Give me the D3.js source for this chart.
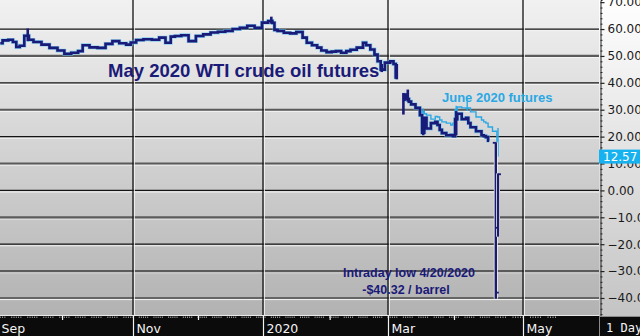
<!DOCTYPE html>
<html lang="en">
<head>
<meta charset="utf-8">
<script src="https://cdn.jsdelivr.net/npm/d3@7"></script>
<style>
body{margin:0;background:#fff;overflow:hidden}
svg{display:block}
</style>
</head>
<body>
<div id="chart"></div>
<script>
const mayDates=["2019-09-04","2019-09-06","2019-09-09","2019-09-10","2019-09-12","2019-09-13","2019-09-16","2019-09-17","2019-09-20","2019-09-24","2019-09-27",
"2019-10-01","2019-10-03","2019-10-07","2019-10-09","2019-10-11","2019-10-15","2019-10-18","2019-10-22","2019-10-24","2019-10-28","2019-10-30",
"2019-11-01","2019-11-04","2019-11-08","2019-11-12","2019-11-15","2019-11-18","2019-11-20","2019-11-22","2019-11-26","2019-11-29",
"2019-12-03","2019-12-06","2019-12-10","2019-12-13","2019-12-17","2019-12-20","2019-12-24","2019-12-27","2019-12-31",
"2020-01-03","2020-01-06","2020-01-07","2020-01-08","2020-01-10","2020-01-14","2020-01-16","2020-01-20","2020-01-22","2020-01-24","2020-01-27","2020-01-29","2020-01-31",
"2020-02-03","2020-02-05","2020-02-07","2020-02-10","2020-02-12","2020-02-14","2020-02-18","2020-02-20","2020-02-21","2020-02-24","2020-02-25","2020-02-27","2020-02-28",
"2020-03-02","2020-03-04","2020-03-05","2020-03-06","2020-03-07",
"2020-03-09","2020-03-10","2020-03-11","2020-03-12","2020-03-13","2020-03-16","2020-03-17","2020-03-18","2020-03-19","2020-03-20",
"2020-03-23","2020-03-24","2020-03-25","2020-03-26","2020-03-27","2020-03-30","2020-03-31",
"2020-04-01","2020-04-02","2020-04-03","2020-04-06","2020-04-07","2020-04-08","2020-04-09","2020-04-13","2020-04-14","2020-04-15","2020-04-16","2020-04-17"]
const mayClose=[54.7,55.8,56.0,55.2,53.3,53.8,57.5,56.0,55.2,54.2,53.0,
52.0,50.8,51.2,51.8,54.0,53.2,53.0,54.5,55.5,54.7,54.2,
55.0,55.9,56.2,56.0,56.8,54.9,57.2,57.4,57.7,55.5,
57.4,58.0,58.7,59.0,59.3,60.0,60.5,61.2,60.5,
62.4,63.0,62.3,59.7,59.3,58.6,58.4,58.9,56.8,54.9,54.0,53.1,52.0,
51.4,51.6,51.8,51.2,51.8,52.3,53.1,54.9,54.0,52.4,50.5,48.0,44.9,
47.5,48.0,47.0,42.0,null,
33.7,35.6,34.0,33.0,32.0,30.7,28.0,21.5,27.0,23.0,
25.0,25.5,24.3,22.5,21.3,20.5,20.6,
20.2,26.5,28.5,26.5,27.0,25.0,23.5,22.0,20.5,20.2,19.8,18.5]
// days whose high/low range sticks out past the closes
const mayRangeDates=["2019-09-16","2020-01-06","2020-02-28","2020-03-06","2020-03-09","2020-03-11","2020-03-18","2020-04-02"]
const mayRangeHigh=[60.2,64.6,47.0,47.0,36.2,37.5,26.5,29.5]
const mayRangeLow=[55.5,62.0,44.0,41.3,28.2,33.0,20.5,20.5]
// the two expiry days, open/high/low/close
const lastDates=["2020-04-20","2020-04-21"]
const lastOpen=[17.7,-13.9]
const lastHigh=[17.9,6.3]
const lastLow=[-40.32,-17.2]
const lastClose=[-38.0,6.0]
// June 2020 contract
const junDates=["2020-03-17","2020-03-18","2020-03-19","2020-03-20","2020-03-23","2020-03-24","2020-03-25","2020-03-26","2020-03-27","2020-03-30","2020-03-31",
"2020-04-01","2020-04-02","2020-04-03","2020-04-06","2020-04-07","2020-04-08","2020-04-09","2020-04-13","2020-04-14","2020-04-15","2020-04-16","2020-04-17","2020-04-20","2020-04-21"]
const junClose=[29.0,29.3,28.5,28.0,26.5,27.5,27.3,26.2,25.5,25.0,24.3,
25.0,30.0,31.0,30.7,30.5,30.7,29.2,27.3,26.2,25.5,25.0,23.6,22.0,12.57]
const junRangeDates=["2020-03-18","2020-04-02","2020-04-07","2020-04-21"]
const junRangeHigh=[30.5,31.5,33.7,23.2]
const junRangeLow=[28.0,25.0,29.5,12.57]

const yTicks=[70,60,50,40,30,20,10,0,-10,-20,-30,-40]
const monthTicks=["2019-09-03","2019-10-01","2019-11-01","2019-12-02","2020-01-02","2020-02-03","2020-03-02","2020-04-01","2020-05-01"]
const monthLabels={"2019-09-03":"Sep","2019-11-01":"Nov","2020-01-02":"2020","2020-03-02":"Mar","2020-05-01":"May"}
const lastPrice=12.57

const W=640,H=336,plotR=599,plotB=316
const navy="#1a1a78",cyan="#2aa8e4"
const parse=d3.timeParse("%Y-%m-%d")
// trading-day chart: piecewise time scale pinned at the month lines
const x=d3.scaleTime()
  .domain(["2019-09-03","2019-11-01","2020-01-02","2020-03-02","2020-04-21","2020-05-01"].map(parse))
  .range([-2,133,263,388,498,523])
const y=d3.scaleLinear().domain([-46.7,70.8]).range([plotB,0])

const svg=d3.select("#chart").append("svg").attr("width",W).attr("height",H)
  .style("font-family","'DejaVu Sans',sans-serif")
const defs=svg.append("defs")
const bg=defs.append("linearGradient").attr("id","bg").attr("x1",0).attr("x2",0).attr("y1",0).attr("y2",1)
bg.append("stop").attr("offset","0%").attr("stop-color","#f1f1f1")
bg.append("stop").attr("offset","100%").attr("stop-color","#b2b2b2")
const ax=defs.append("linearGradient").attr("id","ax").attr("x1",0).attr("x2",0).attr("y1",0).attr("y2",1)
ax.append("stop").attr("offset","0%").attr("stop-color","#ffffff")
ax.append("stop").attr("offset","100%").attr("stop-color","#c4c4c4")
defs.append("clipPath").attr("id","clip").append("rect").attr("width",plotR).attr("height",plotB)

svg.append("rect").attr("width",plotR).attr("height",plotB).attr("fill","url(#bg)")

// grid, odd tens drawn heavier and greyer like the original
const grid=svg.append("g")
const gy=yTicks.filter(v=>v<70)
grid.selectAll(".hl").data(gy).join("line").attr("x1",0).attr("x2",plotR)
  .attr("y1",d=>y(d)+1.6).attr("y2",d=>y(d)+1.6).attr("stroke","#f4f4f4").attr("stroke-width",1)
grid.selectAll(".gl").data(gy).join("line").attr("x1",0).attr("x2",plotR)
  .attr("y1",d=>y(d)).attr("y2",d=>y(d))
  .attr("stroke",d=>Math.abs(d/10)%2==1?"#5a5a5a":"#151515")
  .attr("stroke-width",d=>Math.abs(d/10)%2==1?2.2:1.2)
const vLines=monthTicks.filter(d=>monthLabels[d]&&d!="2019-09-03").map(parse)
grid.selectAll(".vh").data(vLines).join("line").attr("x1",d=>x(d)+1.3).attr("x2",d=>x(d)+1.3)
  .attr("y1",0).attr("y2",plotB).attr("stroke","#f6f6f6").attr("stroke-width",1)
grid.selectAll(".vl").data(vLines).join("line").attr("x1",d=>x(d)).attr("x2",d=>x(d))
  .attr("y1",0).attr("y2",plotB).attr("stroke","#111").attr("stroke-width",1.3)

const plot=svg.append("g").attr("clip-path","url(#clip)")
const step=d3.line().defined(p=>p.c!=null).x(p=>x(p.d)).y(p=>y(p.c)).curve(d3.curveStep)

// June contract, thin light blue
const jun=junDates.map((d,i)=>({d:parse(d),c:junClose[i]}))
plot.append("path").datum(jun).attr("d",step).attr("fill","none").attr("stroke",cyan).attr("stroke-width",1.4)
plot.selectAll(".jr").data(junRangeDates).join("line")
  .attr("x1",d=>x(parse(d))).attr("x2",d=>x(parse(d)))
  .attr("y1",(d,i)=>y(junRangeHigh[i])).attr("y2",(d,i)=>y(junRangeLow[i]))
  .attr("stroke",cyan).attr("stroke-width",1.4)

// May contract, navy with a light edge
const may=mayDates.map((d,i)=>({d:parse(d),c:mayClose[i]}))
plot.append("path").datum(may).attr("d",step).attr("fill","none").attr("stroke","#5cc2f0").attr("stroke-width",3.8).attr("opacity",0.7)
plot.append("path").datum(may).attr("d",step).attr("fill","none").attr("stroke",navy).attr("stroke-width",2.6)
plot.selectAll(".mr").data(mayRangeDates).join("line")
  .attr("x1",d=>x(parse(d))).attr("x2",d=>x(parse(d)))
  .attr("y1",(d,i)=>y(mayRangeHigh[i])).attr("y2",(d,i)=>y(mayRangeLow[i]))
  .attr("stroke",navy).attr("stroke-width",2.6)

// expiry bars
const last=plot.selectAll(".lb").data(lastDates).join("g")
last.append("line").attr("x1",d=>x(parse(d))).attr("x2",d=>x(parse(d)))
  .attr("y1",(d,i)=>y(lastHigh[i])).attr("y2",(d,i)=>y(lastLow[i]))
  .attr("stroke","#eef2d8").attr("stroke-width",4)
last.append("line").attr("x1",d=>x(parse(d))).attr("x2",d=>x(parse(d)))
  .attr("y1",(d,i)=>y(lastHigh[i])).attr("y2",(d,i)=>y(lastLow[i]))
  .attr("stroke",navy).attr("stroke-width",2.4)
last.append("line").attr("x1",d=>x(parse(d))-3).attr("x2",d=>x(parse(d)))
  .attr("y1",(d,i)=>y(lastOpen[i])).attr("y2",(d,i)=>y(lastOpen[i]))
  .attr("stroke",navy).attr("stroke-width",1.8)
last.append("line").attr("x1",d=>x(parse(d))).attr("x2",d=>x(parse(d))+3)
  .attr("y1",(d,i)=>y(lastClose[i])).attr("y2",(d,i)=>y(lastClose[i]))
  .attr("stroke",navy).attr("stroke-width",1.8)

// annotations
const ann=svg.append("g").style("font-family","'Liberation Sans',Arial,sans-serif").style("font-weight","bold")
ann.append("text").attr("x",108).attr("y",77).attr("font-size",18.5).attr("fill",navy).text("May 2020 WTI crude oil futures")
ann.append("text").attr("x",442).attr("y",102).attr("font-size",13).attr("fill",cyan).text("June 2020 futures")
ann.append("text").attr("x",409).attr("y",277).attr("font-size",12.5).attr("fill",navy).attr("text-anchor","middle").text("Intraday low 4/20/2020")
ann.append("text").attr("x",406).attr("y",294).attr("font-size",12.5).attr("fill",navy).attr("text-anchor","middle").text("-$40.32 / barrel")

// right price axis
svg.append("rect").attr("x",plotR).attr("width",W-plotR).attr("height",plotB).attr("fill","url(#ax)")
const yMinor=d3.range(-46,71,2).filter(v=>v%10!=0)
svg.append("g").attr("transform",`translate(${plotR+1.5},0)`)
  .call(d3.axisRight(y).tickValues(yMinor).tickSize(2).tickFormat(""))
  .call(g=>g.selectAll("line").attr("stroke","#222"))
  .call(g=>g.select(".domain").attr("stroke","#222"))
svg.append("g").attr("transform",`translate(${plotR+1.5},0)`)
  .call(d3.axisRight(y).tickValues(yTicks).tickSize(4).tickPadding(3).tickFormat(d3.format(".2f")))
  .call(g=>g.select(".domain").remove())
  .call(g=>g.selectAll("line").attr("stroke","#222").attr("stroke-width",1.2))
  .call(g=>g.selectAll("text").attr("fill","#1a1a1a").attr("font-size",12).style("font-family","'DejaVu Sans',sans-serif"))

// last price tag
svg.append("rect").attr("x",plotR).attr("y",y(lastPrice)-7).attr("width",W-plotR).attr("height",14).attr("fill","#16b1ef")
svg.append("text").attr("x",plotR+4).attr("y",y(lastPrice)+4.5).attr("fill","#fff").attr("font-size",12).text(d3.format(".2f")(lastPrice))

// bottom time axis
svg.append("rect").attr("y",plotB).attr("width",W).attr("height",H-plotB).attr("fill","#0b0b0b")
svg.append("line").attr("x1",0).attr("x2",plotR).attr("y1",plotB-0.5).attr("y2",plotB-0.5).attr("stroke","#e8e8e8")
const days=d3.timeDay.range(parse("2019-09-03"),parse("2020-05-15")).filter(d=>d.getDay()%6!=0)
svg.append("g").selectAll("line").data(days).join("line")
  .attr("x1",d=>x(d)).attr("x2",d=>x(d)).attr("y1",plotB+0.5).attr("y2",plotB+2)
  .attr("stroke","#ddd").attr("stroke-width",0.7)
const xa=svg.append("g").attr("transform",`translate(0,${plotB})`)
  .call(d3.axisBottom(x).tickValues(monthTicks.map(parse)).tickSize(H-plotB)
    .tickFormat(d=>monthLabels[d3.timeFormat("%Y-%m-%d")(d)]||""))
xa.select(".domain").remove()
xa.selectAll("line").attr("stroke","#f2f2f2").attr("stroke-width",1.2)
  .attr("y2",d=>monthLabels[d3.timeFormat("%Y-%m-%d")(d)]?H-plotB:4)
xa.selectAll("text").attr("text-anchor","start").attr("x",3).attr("y",17).attr("dy",0)
  .attr("fill","#f4f4f4").attr("font-size",12.5).style("font-family","'DejaVu Sans',sans-serif")

// interval box
svg.append("rect").attr("x",plotR+0.5).attr("y",plotB+0.5).attr("width",W-plotR).attr("height",H-plotB).attr("fill","#0b0b0b").attr("stroke","#8a8a8a")
svg.append("text").attr("x",plotR+7).attr("y",H-4).attr("fill","#f4f4f4").attr("font-size",12)
  .style("font-family","'DejaVu Sans Mono',monospace").text("1 Day")
</script>
</body>
</html>
